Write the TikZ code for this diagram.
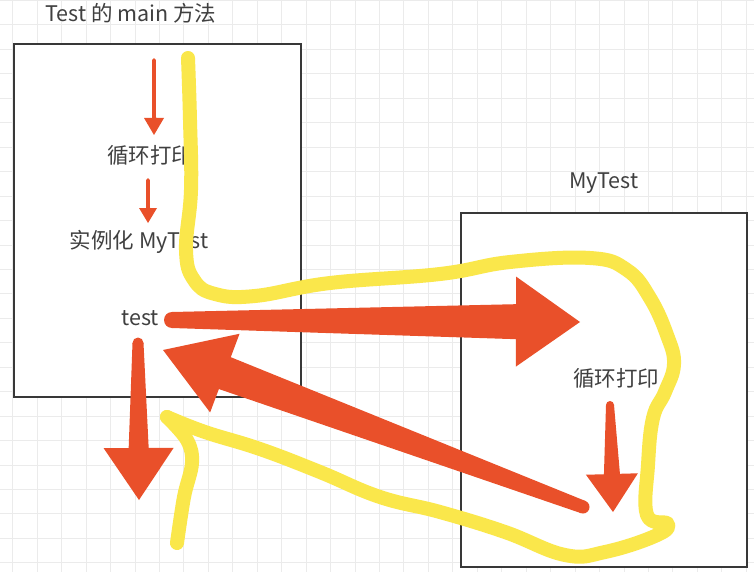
\documentclass[tikz,border=0pt]{standalone}
\usepackage{fontspec}
\usepackage{xcolor}
\usetikzlibrary{calc,positioning}
\newfontfamily\cjk{Noto Sans CJK SC}
\definecolor{arrowred}{HTML}{E9502A}
\definecolor{marker}{HTML}{FAE74B}
\definecolor{boxline}{HTML}{383838}
\definecolor{gridgray}{HTML}{EBEBEB}
\definecolor{textgray}{HTML}{404040}
\tikzstyle{frame} = [rectangle, draw=boxline, line width=2.8pt, fill=white, inner sep=0pt]
\tikzstyle{txt} = [text=textgray, font=\cjk\fontsize{21.5}{24}\selectfont, inner sep=0pt]
\tikzstyle{scribble} = [draw=marker, line width=14pt, line cap=round, line join=round]
% tapered arrow: tail, tip, tail half width, shaft half width, head half width, head length
\newcommand{\fatarrow}[6]{%
  \coordinate (fa-back) at ($(#2)!#6!(#1)$);
  \fill[arrowred] (#1) circle (#3);
  \fill[arrowred] ($(#1)!#3!90:(#2)$) -- ($(fa-back)!#4!90:(#2)$) -- ($(fa-back)!#5!90:(#2)$)
    -- (#2) -- ($(fa-back)!#5!-90:(#2)$) -- ($(fa-back)!#4!-90:(#2)$) -- ($(#1)!#3!-90:(#2)$) -- cycle;
}

\begin{document}
\begin{tikzpicture}[x=1pt,y=-1pt]
  \useasboundingbox (0,0) rectangle (754,572);
  \fill[white] (0,0) rectangle (754,572);
  % grid
  \foreach \i in {0,...,30}
    \draw[gridgray, line width=1pt] ({12.75+24.45*\i},0) -- ({12.75+24.45*\i},572);
  \foreach \j in {0,...,23}
    \draw[gridgray, line width=1pt] (0,{0.5+24.45*\j}) -- (754,{0.5+24.45*\j});

  % boxes
  \node[frame, minimum width=287pt, minimum height=353pt] (mainbox) at (157.5,220.5) {};
  \node[frame, minimum width=286pt, minimum height=354pt] (classbox) at (604,390) {};

  % texts
  \node[txt] (maintitle) at (131,13) {Test 的 main 方法};
  \node[txt] (classtitle) at (604,183) {MyTest};
  \node[txt] (loopmain) at (150,155) {循环打印};
  \node[txt] (newobj) at (139,242) {实例化 MyTest};
  \node[txt] (testcall) at (140,318) {test};
  \node[txt] (loopclass) at (616,378) {循环打印};

  % yellow marker
  \draw[scribble] plot[smooth, tension=0.7] coordinates {(188,58) (190,120) (191,190)
    (186,250) (194,280) (215,294) (255,296) (330,283) (440,274) (510,262) (590,258) (627,270)
    (650,298) (667,335) (674,364) (665,392) (653,418) (648,465) (647,515) (668,524) (655,536)
    (605,552) (565,555) (505,532) (440,512) (380,497) (320,472) (260,449) (205,432) (167,417)};
  \draw[scribble] plot[smooth, tension=0.6] coordinates {(167,417) (187,440) (192,463)
    (184,497) (177,543)};

  % arrow ends
  \coordinate (a1s) at (154,60);
  \coordinate (a1e) at (154,135);
  \coordinate (a2s) at (148,180);
  \coordinate (a2e) at (148,223);
  \coordinate (a3s) at (172,320);
  \coordinate (a3e) at (580,322);
  \coordinate (a4s) at (583,507);
  \coordinate (a4e) at (163,350);
  \coordinate (a5s) at (138,343);
  \coordinate (a5e) at (139,500);
  \coordinate (a6s) at (610,405);
  \coordinate (a6e) at (613,512);

  \fatarrow{a1s}{a1e}{1.8pt}{2pt}{10pt}{17pt}
  \fatarrow{a2s}{a2e}{1.8pt}{2pt}{9pt}{15pt}
  \fatarrow{a3s}{a3e}{8pt}{17.5pt}{45pt}{64pt}
  \fatarrow{a4s}{a4e}{6.5pt}{17pt}{42pt}{66pt}
  \fatarrow{a5s}{a5e}{5.5pt}{10pt}{35pt}{52pt}
  \fatarrow{a6s}{a6e}{4pt}{8pt}{26pt}{38pt}
\end{tikzpicture}
\end{document}
